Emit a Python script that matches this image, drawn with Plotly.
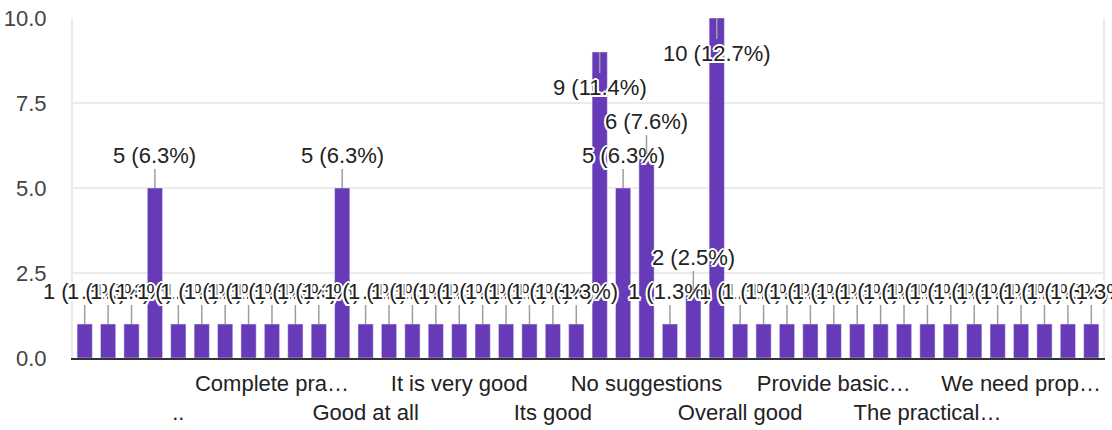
import plotly.graph_objects as go

categories = [
    "-", "-.", "--", ".", "..", "All good", "Best", "Better",
    "Complete practical training", "Excellent", "Fine", "Good", "Good at all",
    "Good experience", "Good training", "Great", "It is very good",
    "It was helpful", "It was nice", "Its fine", "Its good", "Its very useful",
    "Nil", "No", "No suggestions", "No suggestions.", "None", "Nothing",
    "Overall good", "Perfect", "Practical sessions", "Properly conducted",
    "Provide basic knowledge", "Satisfied", "Teaching is good", "Thank you",
    "The practical session is good", "Useful", "Very good", "Very useful",
    "We need proper lab", "Well organized", "Well explained", "Yes",
]
values = [
    1, 1, 1, 5, 1, 1, 1, 1, 1, 1, 1, 5, 1, 1, 1, 1, 1, 1, 1, 1, 1, 1,
    9, 5, 6, 1, 2, 10, 1, 1, 1, 1, 1, 1, 1, 1, 1, 1, 1, 1, 1, 1, 1, 1,
]
tick_categories = [
    "..", "Complete practical training", "Good at all", "It is very good",
    "Its good", "No suggestions", "Overall good", "Provide basic knowledge",
    "The practical session is good", "We need proper lab",
]
tick_labels = [
    "..", "Complete pra…", "Good at all", "It is very good", "Its good",
    "No suggestions", "Overall good", "Provide basic…", "The practical…",
    "We need prop…",
]
y_ticks = [0, 2.5, 5, 7.5, 10]

FONT = "Arial, Liberation Sans, sans-serif"
BAR = "#673ab7"
total = sum(values)

fig = go.Figure(go.Bar(x=categories, y=values, marker_color=BAR, hoverinfo="skip"))

halo = ", ".join(f"{dx}px {dy}px 0 #fff" for dx, dy in
                 [(-2, 0), (2, 0), (0, -2), (0, 2), (-1.5, -1.5), (1.5, -1.5), (-1.5, 1.5), (1.5, 1.5)])

annotations = []
for c, v in zip(categories, values):
    below = v >= 9
    annotations.append(dict(
        x=c, y=v, xref="x", yref="y",
        text=f"{v} ({v / total * 100:.1f}%)",
        showarrow=True, arrowhead=0, arrowwidth=1.5, arrowcolor="#9e9e9e",
        standoff=0, ax=0, ay=35 if below else -33,
        font=dict(family=FONT, size=22, color="#222222", shadow=halo),
    ))

tick_text = [("<br>" if i % 2 == 0 else "") + t for i, t in enumerate(tick_labels)]

fig.update_layout(
    width=1112, height=430,
    margin=dict(l=73, r=9, t=18, b=72, autoexpand=False),
    paper_bgcolor="white", plot_bgcolor="white",
    bargap=0.35, showlegend=False,
    annotations=annotations,
    font=dict(family=FONT, size=22, color="#222222"),
    xaxis=dict(
        type="category", categoryorder="array", categoryarray=categories,
        range=[-0.5, len(categories) - 0.5],
        tickmode="array", tickvals=tick_categories, ticktext=tick_text,
        tickangle=0, showgrid=False, showline=True, linecolor="#333333",
        linewidth=2, ticks="", ticklabelstandoff=5, automargin=False,
        tickfont=dict(family=FONT, size=22, color="#222222"),
    ),
    yaxis=dict(
        range=[0, 10], tickmode="array", tickvals=y_ticks, tickformat=".1f",
        showgrid=True, gridcolor="#ebebeb", gridwidth=2, zeroline=False,
        showline=True, linecolor="#ebebeb", linewidth=2, mirror=True,
        ticks="", ticklabelstandoff=20, automargin=False,
        ticklabeloverflow="allow",
        tickfont=dict(family=FONT, size=22, color="#444444"),
    ),
)

fig.write_html(
    "out.html",
    config={"displayModeBar": False},
    post_script="document.body.style.margin='0';document.body.style.overflow='hidden';",
)
